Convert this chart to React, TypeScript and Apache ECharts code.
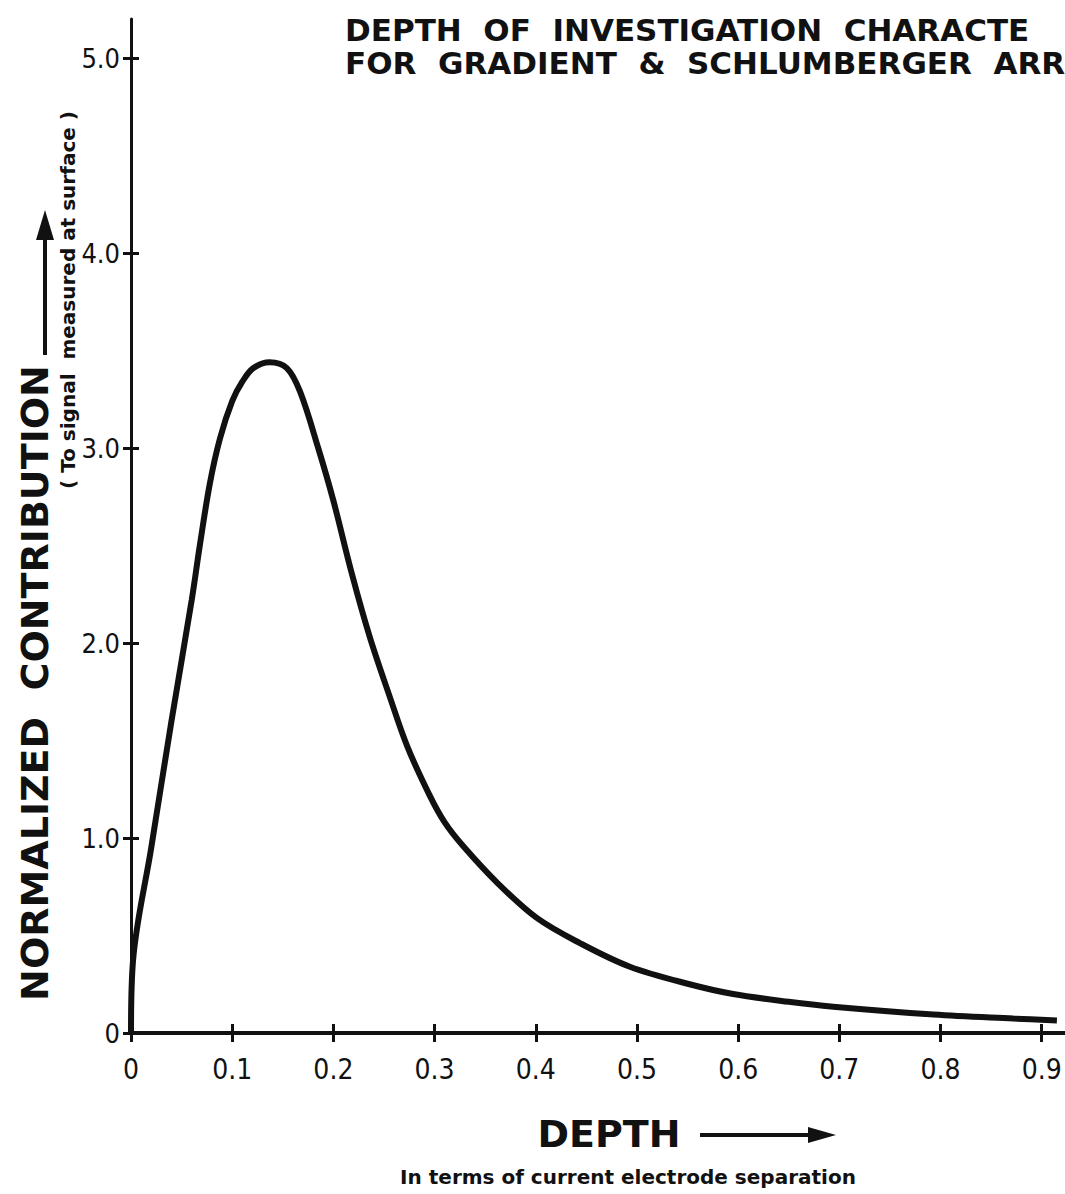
import React, { useEffect, useRef } from "react";
import * as echarts from "echarts";

const depth = [0, 0.002, 0.02, 0.04, 0.06, 0.068, 0.078, 0.088, 0.1, 0.11, 0.121, 0.137, 0.154, 0.167, 0.185, 0.2, 0.218, 0.236, 0.256, 0.273, 0.295, 0.31, 0.328, 0.362, 0.401, 0.444, 0.493, 0.552, 0.595, 0.65, 0.694, 0.793, 0.872, 0.915];
const contribution = [0, 0.37, 0.95, 1.6, 2.22, 2.5, 2.82, 3.05, 3.24, 3.34, 3.41, 3.44, 3.41, 3.29, 3.0, 2.73, 2.36, 2.03, 1.72, 1.47, 1.22, 1.08, 0.96, 0.77, 0.59, 0.46, 0.34, 0.25, 0.2, 0.16, 0.135, 0.095, 0.074, 0.064];
const xTicks = [0, 0.1, 0.2, 0.3, 0.4, 0.5, 0.6, 0.7, 0.8, 0.9];
const yTicks = [0, 1, 2, 3, 4, 5];
const titleLines = ["DEPTH  OF  INVESTIGATION  CHARACTE", "FOR  GRADIENT  &  SCHLUMBERGER  ARR"];
const yName = "NORMALIZED  CONTRIBUTION";
const ySubName = "( To signal  measured at surface )";
const xName = "DEPTH";
const xSubName = "In terms of current electrode separation";

const INK = "#111";
const BOLD = "DejaVu Sans";
const NARROW = "'DejaVu Sans Condensed', 'Liberation Sans Narrow', sans-serif";

export default function App() {
  const ref = useRef<HTMLDivElement>(null);
  useEffect(() => {
    if (!ref.current) return;
    const chart = echarts.init(ref.current, undefined, { renderer: "svg" });
    const data = depth.map((d, i) => [d, contribution[i]]);
    const xFmt = (v: number) => (v === 0 ? "0" : v.toFixed(1));
    const yFmt = (v: number) => (v === 0 ? "0" : v.toFixed(1));
    chart.setOption({
      animation: false,
      backgroundColor: "#ffffff",
      grid: { left: 131, right: 0, top: 19, bottom: 161 },
      xAxis: [
        {
          type: "value",
          min: 0,
          max: 0.923,
          position: "bottom",
          splitLine: { show: false },
          axisLine: { show: true, onZero: false, lineStyle: { color: INK, width: 4 } },
          axisTick: { show: true, inside: false, length: 9, customValues: xTicks, lineStyle: { color: INK, width: 3 } },
          axisLabel: { show: true, customValues: xTicks, formatter: xFmt, margin: 22, color: INK, fontSize: 28, fontFamily: NARROW },
        },
        {
          type: "value",
          min: 0,
          max: 0.923,
          position: "bottom",
          splitLine: { show: false },
          axisLine: { show: false },
          axisTick: { show: true, inside: true, length: 9, customValues: xTicks, lineStyle: { color: INK, width: 3 } },
          axisLabel: { show: false },
        },
      ],
      yAxis: [
        {
          type: "value",
          min: 0,
          max: 5.2,
          position: "left",
          splitLine: { show: false },
          axisLine: { show: true, onZero: false, lineStyle: { color: INK, width: 3 } },
          axisTick: { show: true, inside: false, length: 8, customValues: yTicks, lineStyle: { color: INK, width: 3 } },
          axisLabel: { show: true, customValues: yTicks, formatter: yFmt, margin: 11, color: INK, fontSize: 27, fontFamily: NARROW },
        },
        {
          type: "value",
          min: 0,
          max: 5.2,
          position: "left",
          splitLine: { show: false },
          axisLine: { show: false },
          axisTick: { show: true, inside: true, length: 8, customValues: yTicks, lineStyle: { color: INK, width: 3 } },
          axisLabel: { show: false },
        },
      ],
      series: [
        {
          type: "line",
          data,
          xAxisIndex: 0,
          yAxisIndex: 0,
          smooth: 0.35,
          showSymbol: false,
          symbol: "none",
          lineStyle: { color: INK, width: 6 },
        },
      ],
      graphic: [
        {
          type: "text",
          left: 345,
          top: 13,
          style: { text: titleLines.join("\n"), fill: INK, font: `bold 31px ${BOLD}`, lineHeight: 33 },
        },
        {
          type: "text",
          x: 35,
          y: 683,
          rotation: Math.PI / 2,
          style: { text: yName, fill: INK, font: `bold 38px ${BOLD}`, align: "center", verticalAlign: "middle" },
        },
        {
          type: "line",
          shape: { x1: 45, y1: 355, x2: 45, y2: 232 },
          style: { stroke: INK, lineWidth: 4 },
        },
        {
          type: "polygon",
          shape: { points: [[36, 240], [54, 240], [45, 210]] },
          style: { fill: INK },
        },
        {
          type: "text",
          x: 68,
          y: 300,
          rotation: Math.PI / 2,
          style: { text: ySubName, fill: INK, font: `bold 20px ${BOLD}`, align: "center", verticalAlign: "middle" },
        },
        {
          type: "text",
          x: 609,
          y: 1134,
          style: { text: xName, fill: INK, font: `bold 38px ${BOLD}`, align: "center", verticalAlign: "middle" },
        },
        {
          type: "line",
          shape: { x1: 700, y1: 1135, x2: 815, y2: 1135 },
          style: { stroke: INK, lineWidth: 4 },
        },
        {
          type: "polygon",
          shape: { points: [[808, 1127], [808, 1143], [836, 1135]] },
          style: { fill: INK },
        },
        {
          type: "text",
          x: 628,
          y: 1177,
          style: { text: xSubName, fill: INK, font: `bold 20px ${BOLD}`, align: "center", verticalAlign: "middle" },
        },
      ],
    });
    return () => chart.dispose();
  }, []);
  return (
    <div
      ref={ref}
      style={{ position: "fixed", left: 0, top: 0, width: 1065, height: 1194, background: "#fff" }}
    />
  );
}
